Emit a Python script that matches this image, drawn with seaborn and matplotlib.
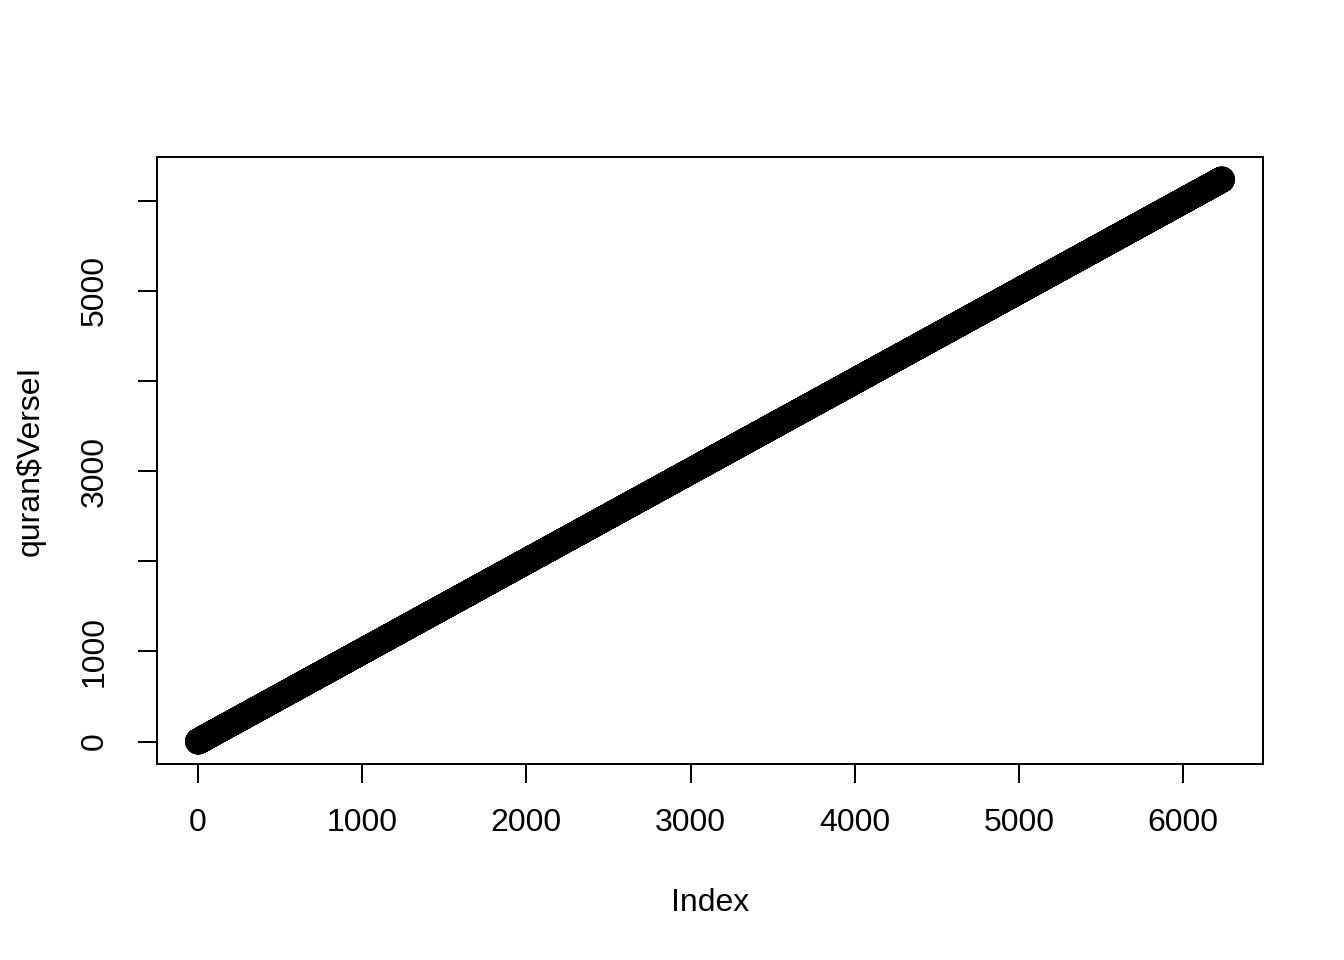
import matplotlib
matplotlib.use("Agg")
import matplotlib.pyplot as plt
import numpy as np
import pandas as pd
import seaborn as sns

# verse id column: 6236 verses numbered 1..6236, plotted against their row index
n_verses = 6236
verse_index = np.arange(1, n_verses + 1)
verse_id = np.arange(1, n_verses + 1)

x_ticks = [0, 1000, 2000, 3000, 4000, 5000, 6000]
y_ticks = [0, 1000, 2000, 3000, 4000, 5000, 6000]
y_tick_labels = ["0", "1000", "", "3000", "", "5000", ""]

df = pd.DataFrame({"Index": verse_index, "VerseI": verse_id})

sns.set_style("white", {"xtick.bottom": True, "ytick.left": True,
                        "text.color": "black", "axes.labelcolor": "black"})
plt.rcParams["font.family"] = ["Liberation Sans", "DejaVu Sans"]

fig = plt.figure(figsize=(13.44, 9.6), dpi=100)
ax = fig.add_axes([157 / 1344, 1 - 764 / 960, (1263 - 157) / 1344, (764 - 157) / 960])

sns.scatterplot(data=df, x="Index", y="VerseI", ax=ax, marker="o", s=300,
                facecolors="none", edgecolors="black", linewidth=1.44, legend=False)

pad = 0.04 * (n_verses - 1)
ax.set_xlim(1 - pad, n_verses + pad)
ax.set_ylim(1 - pad, n_verses + pad)

ax.set_xticks(x_ticks)
ax.set_xticklabels([str(t) for t in x_ticks])
ax.set_yticks(y_ticks)
ax.set_yticklabels(y_tick_labels, rotation=90, va="center")

ax.tick_params(axis="both", direction="out", length=13.8, width=1.44,
               labelsize=23, color="black", labelcolor="black",
               bottom=True, left=True)
ax.tick_params(axis="x", pad=18)
ax.tick_params(axis="y", pad=20)

for spine in ax.spines.values():
    spine.set_visible(True)
    spine.set_color("black")
    spine.set_linewidth(1.44)

ax.set_xlabel("Index", fontsize=23, labelpad=36, color="black")
ax.set_ylabel(r"quran\$VerseI", fontsize=23, labelpad=25, color="black")

fig.savefig("out.png", dpi=100, facecolor="white")
